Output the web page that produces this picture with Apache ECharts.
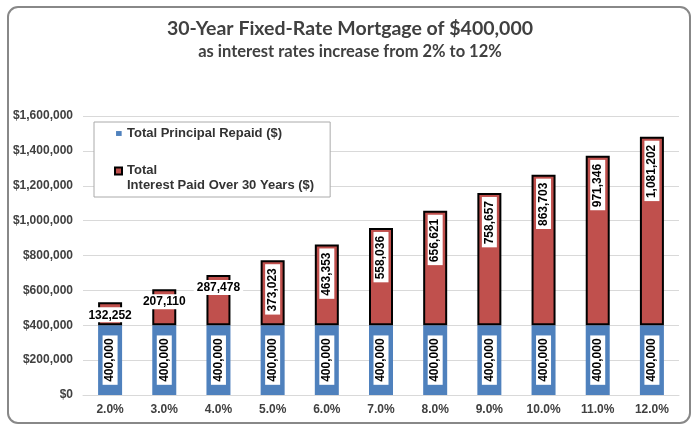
<!DOCTYPE html>
<html>
<head>
<meta charset="utf-8">
<script src="https://cdn.jsdelivr.net/npm/echarts@6/dist/echarts.min.js"></script>
<style>html,body{margin:0;padding:0;background:#fff}#c{width:700px;height:434px}</style>
</head>
<body>
<div id="c"></div>
<script>
const categories = ['2.0%','3.0%','4.0%','5.0%','6.0%','7.0%','8.0%','9.0%','10.0%','11.0%','12.0%'];
const principal = [400000,400000,400000,400000,400000,400000,400000,400000,400000,400000,400000];
const interest = [132252,207110,287478,373023,463353,558036,656621,758657,863703,971346,1081202];
const yTicks = [0,200000,400000,600000,800000,1000000,1200000,1400000,1600000];
const nameP = 'Total Principal Repaid ($)';
const nameI = 'Total\nInterest Paid Over 30 Years ($)';

const fmt = v => v.toLocaleString('en-US');
const lblBase = {show:true, color:'#000', fontFamily:'Liberation Sans, Arial', fontWeight:'bold', fontSize:12,
  backgroundColor:'#fff', formatter: p => fmt(p.value)};

const interestData = interest.map((v,i) => {
  const horiz = i < 3;
  return {value:v, label: horiz
    ? Object.assign({}, lblBase, {position:'insideTop', distance:5, rotate:0, padding:[2,3,1,3]})
    : Object.assign({}, lblBase, {position:'insideTop', distance:4, rotate:90, align:'right', verticalAlign:'middle', padding:[2,4,1,3]})};
});

const chart = echarts.init(document.getElementById('c'), null, {renderer:'canvas'});
chart.setOption({
  animation:false,
  graphic:[{type:'rect', shape:{x:8,y:7,width:682,height:416,r:10}, style:{fill:'none', stroke:'#888', lineWidth:2}, z:-1}],
  title:{text:'30-Year Fixed-Rate Mortgage of $400,000', subtext:'as interest rates increase from 2% to 12%', left:'center', top:14, itemGap:4,
    textStyle:{fontFamily:'Lato', fontWeight:'bold', fontSize:19.5, color:'#404040'},
    subtextStyle:{fontFamily:'Lato', fontWeight:'bold', fontSize:16.5, color:'#404040'}},
  legend:{orient:'vertical', left:94, top:122, backgroundColor:'#fff', borderColor:'#aaa', borderWidth:1,
    padding:[1,16,4,20], itemGap:19, itemWidth:7, itemHeight:21,
    textStyle:{fontFamily:'Liberation Sans, Arial', fontWeight:'bold', fontSize:13, color:'#333', lineHeight:15},
    data:[{name:nameP, icon:'path://M0,0L0,0M1,11.5L9,11.5L9,18.5L1,18.5ZM0,30L0,30'},
          {name:nameI, icon:'path://M0,0L10,0L10,10L0,10ZM0,30L0,30'}]},
  grid:{left:83, right:21, top:116, bottom:39},
  xAxis:{type:'category', data:categories, axisTick:{show:false},
    axisLine:{lineStyle:{color:'#d9d9d9'}},
    axisLabel:{fontFamily:'Liberation Sans, Arial', fontWeight:'bold', fontSize:12, color:'#404040', margin:9}},
  yAxis:{type:'value', min:0, max:1600000, interval:200000,
    axisLabel:{fontFamily:'Liberation Sans, Arial', fontWeight:'bold', fontSize:12, color:'#404040', margin:10,
      formatter: v => yTicks.includes(v) ? '$' + fmt(v) : ''},
    splitLine:{lineStyle:{color:'#d9d9d9'}}},
  series:[
    {name:nameP, type:'bar', stack:'a', barWidth:24, data:principal,
      itemStyle:{color:'#4f81bd'},
      label:Object.assign({}, lblBase, {position:'inside', rotate:90, align:'center', verticalAlign:'middle', padding:[2,3,1,3]})},
    {name:nameI, type:'bar', stack:'a', barWidth:24, data:interestData,
      itemStyle:{color:'#c0504d', borderColor:'#000', borderWidth:2}}
  ]
});
</script>
</body>
</html>
